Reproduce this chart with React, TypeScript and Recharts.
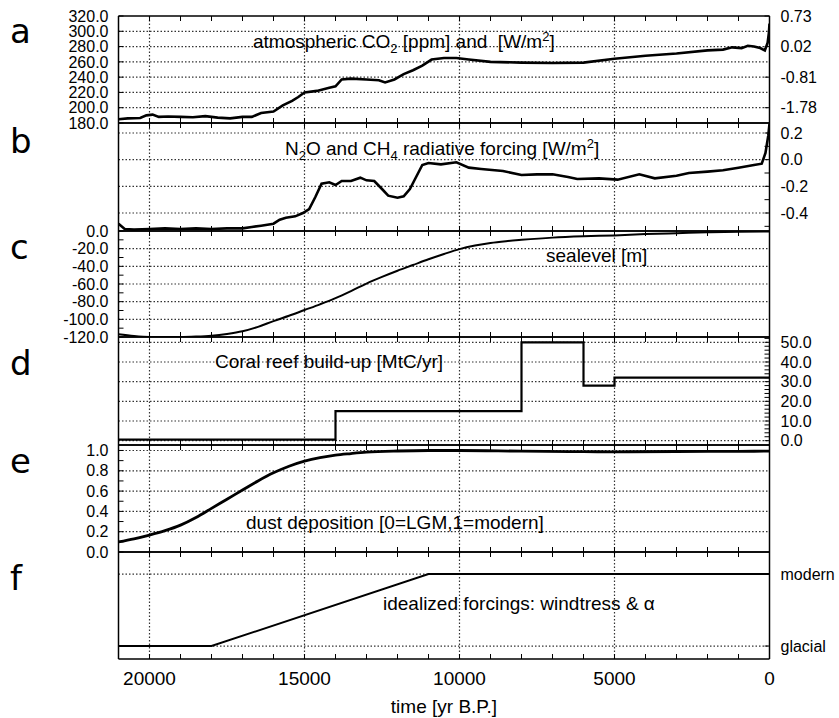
import React from "react";
import { LineChart, Line, XAxis, YAxis, ReferenceLine } from "recharts";

// time axis (yr B.P.)
const xTicks = [0, 1000, 2000, 3000, 4000, 5000, 6000, 7000, 8000, 9000, 10000, 11000, 12000, 13000, 14000, 15000, 16000, 17000, 18000, 19000, 20000, 21000];
const xGrid = [5000, 10000, 15000, 20000];

// a: atmospheric CO2
const co2Years = [21000, 20700, 20300, 20100, 19900, 19700, 19400, 19000, 18600, 18200, 17800, 17400, 17000, 16700, 16400, 16000, 15700, 15400, 15200, 15000, 14600, 14200, 14000, 13800, 13500, 13000, 12600, 12400, 12100, 11800, 11500, 11200, 10900, 10500, 10100, 9700, 9000, 8000, 7000, 6000, 5000, 4000, 3000, 2000, 1500, 1200, 900, 700, 500, 300, 150, 60, 20, 0];
const co2Ppm = [185, 186, 186.5, 190, 191, 188, 188.5, 188, 187.5, 189, 187, 186, 188, 188, 193, 195, 203, 209, 214, 220, 222, 226, 228, 237, 238, 237, 236, 233, 237, 244, 249, 255, 263, 265, 265, 263, 260, 259, 258.5, 259, 264, 268, 271, 275, 276, 279, 278, 281, 280, 278, 275, 285, 298, 310];
const co2Ticks = [180, 200, 220, 240, 260, 280, 300, 320];
const co2Grid = [200, 220, 240, 260, 280, 300];
const co2RightTicks = [320, 280, 240, 200];
const co2ForcingLabels = ["0.73", "0.02", "-0.81", "-1.78"];

// b: N2O and CH4 radiative forcing
const ghgYears = [21000, 20800, 20500, 20000, 19500, 19000, 18500, 18000, 17500, 17000, 16700, 16400, 16000, 15800, 15600, 15300, 15050, 14850, 14650, 14450, 14200, 14000, 13800, 13500, 13200, 13000, 12750, 12500, 12300, 12000, 11800, 11600, 11400, 11200, 11000, 10600, 10100, 9700, 9300, 8600, 8000, 7500, 7000, 6500, 6200, 5500, 4900, 4200, 3700, 3000, 2600, 2000, 1500, 1000, 500, 250, 130, 40, 0];
const ghgForcing = [-0.48, -0.52, -0.525, -0.52, -0.515, -0.52, -0.515, -0.52, -0.515, -0.515, -0.505, -0.495, -0.48, -0.45, -0.435, -0.425, -0.4, -0.37, -0.28, -0.18, -0.17, -0.19, -0.16, -0.16, -0.135, -0.155, -0.16, -0.22, -0.27, -0.285, -0.275, -0.22, -0.13, -0.04, -0.025, -0.035, -0.02, -0.06, -0.07, -0.085, -0.115, -0.11, -0.11, -0.13, -0.145, -0.14, -0.15, -0.11, -0.14, -0.12, -0.1, -0.09, -0.08, -0.06, -0.04, -0.03, 0.05, 0.18, 0.27];
const ghgTicks = [0.2, 0.1, 0, -0.1, -0.2, -0.3, -0.4, -0.5];
const ghgGrid = [0.2, 0, -0.2, -0.4];

// c: sealevel
const seaYears = [21000, 20500, 20000, 19500, 19000, 18500, 18000, 17500, 17000, 16500, 16000, 15500, 15000, 14500, 14000, 13500, 13000, 12500, 12000, 11500, 11000, 10500, 10000, 9500, 9000, 8500, 8000, 7000, 6000, 5000, 4000, 3000, 2000, 1000, 0];
const seaLevel = [-117, -119, -120, -120, -120, -119.5, -118.5, -116.5, -113.5, -108.5, -102, -96, -89.5, -83, -76, -68, -59.5, -52, -45, -38.5, -32, -26, -20.5, -16.5, -13.5, -11.5, -10, -7.5, -6, -5, -3.5, -2.5, -1.5, -0.8, -0.5];
const seaTicks = [0, -10, -20, -30, -40, -50, -60, -70, -80, -90, -100, -110, -120];
const seaGrid = [-20, -40, -60, -80, -100];

// d: coral reef build-up
const coralYears = [21000, 14000, 8000, 6000, 5000, 0];
const coralFlux = [0.5, 15, 50, 28, 32, 32];
const coralTicks = [0, 2, 4, 6, 8, 10, 12, 14, 16, 18, 20, 22, 24, 26, 28, 30, 32, 34, 36, 38, 40, 42, 44, 46, 48, 50, 52];
const coralGrid = [0, 10, 20, 30, 40, 50];

// e: dust deposition
const dustYears = [21000, 20500, 20000, 19500, 19000, 18500, 18000, 17500, 17000, 16500, 16000, 15500, 15000, 14500, 14000, 13500, 13000, 12000, 11000, 10000, 8000, 6000, 5000, 3000, 1000, 0];
const dustIndex = [0.1, 0.13, 0.167, 0.21, 0.265, 0.34, 0.43, 0.52, 0.61, 0.7, 0.78, 0.845, 0.895, 0.93, 0.955, 0.97, 0.983, 0.995, 1.0, 1.0, 0.993, 0.988, 0.987, 0.99, 0.992, 0.993];
const dustTicks = [0, 0.1, 0.2, 0.3, 0.4, 0.5, 0.6, 0.7, 0.8, 0.9, 1.0];
const dustGrid = [0.2, 0.4, 0.6, 0.8, 1.0];

// f: idealized forcings
const forcingYears = [21000, 18000, 11000, 0];
const forcingLevel = [0, 0, 1, 1];
const forcingTicks = [0, 1];
const forcingLabels = ["glacial", "modern"];

const FONT = "'Liberation Sans', Arial, Helvetica, sans-serif";
const W = 839;
const GRID = "#333";

type Row = { t: number; v: number };
const zip = (ts: number[], vs: number[]): Row[] => ts.map((t, i) => ({ t, v: vs[i] }));

type PanelProps = {
  top: number;
  bottom: number;
  rows: Row[];
  domain: [number, number];
  leftTicks?: number[];
  leftFmt?: (v: number) => string;
  rightTicks?: number[];
  rightFmt?: (v: number) => string;
  gridY: number[];
  lineWidth: number;
  curve: "linear" | "monotone" | "stepAfter";
  xLabels?: boolean;
};

function Panel(p: PanelProps) {
  const mt = 12;
  const bh = p.xLabels ? 60 : 1;
  const mb = p.xLabels ? 0 : 12;
  const h = mt + 1 + (p.bottom - p.top) + bh + mb;
  const tickStyle = { fill: "#000", fontSize: 16, fontFamily: FONT };
  return (
    <div style={{ position: "absolute", left: 0, top: p.top - mt - 1 }}>
      <LineChart width={W} height={h} data={p.rows} margin={{ top: mt, right: 0, bottom: mb, left: 0.5 }}>
        <XAxis
          xAxisId="b"
          dataKey="t"
          type="number"
          domain={[0, 21000]}
          reversed
          allowDataOverflow
          ticks={xTicks}
          interval={0}
          height={bh}
          tickSize={-5}
          tickMargin={18}
          axisLine={{ stroke: "#000", strokeWidth: 1.5 }}
          tickLine={{ stroke: "#000" }}
          tick={{ fill: "#000", fontSize: 19, fontFamily: FONT }}
          tickFormatter={(v: number) => (p.xLabels && v % 5000 === 0 ? String(v) : "")}
        />
        <XAxis
          xAxisId="t"
          orientation="top"
          dataKey="t"
          type="number"
          domain={[0, 21000]}
          reversed
          allowDataOverflow
          ticks={xTicks}
          interval={0}
          height={1}
          tickSize={-5}
          axisLine={{ stroke: "#000", strokeWidth: 1.5 }}
          tickLine={{ stroke: "#000" }}
          tickFormatter={() => ""}
        />
        <YAxis
          yAxisId="L"
          type="number"
          domain={p.domain}
          allowDataOverflow
          width={118}
          ticks={p.leftTicks ?? [p.domain[0]]}
          interval={0}
          tickSize={-5}
          tickMargin={15}
          axisLine={false}
          tickLine={p.leftTicks ? { stroke: "#000" } : false}
          tick={p.leftTicks ? tickStyle : false}
          tickFormatter={p.leftFmt}
        />
        <YAxis
          yAxisId="R"
          orientation="right"
          type="number"
          domain={p.domain}
          allowDataOverflow
          width={69.5}
          ticks={p.rightTicks ?? [p.domain[0]]}
          interval={0}
          tickSize={-5}
          tickMargin={16}
          axisLine={false}
          tickLine={p.rightTicks ? { stroke: "#000" } : false}
          tick={p.rightTicks ? tickStyle : false}
          tickFormatter={p.rightFmt}
        />
        {xGrid.map((x) => (
          <ReferenceLine
            key={"gx" + x}
            x={x}
            xAxisId="b"
            yAxisId="L"
            stroke={GRID}
            strokeWidth={1.2}
            strokeDasharray="1.5 2"
          />
        ))}
        {p.gridY.map((y) => (
          <ReferenceLine
            key={"gy" + y}
            y={y}
            xAxisId="b"
            yAxisId="L"
            stroke={GRID}
            strokeWidth={1.2}
            strokeDasharray="1.5 2"
          />
        ))}
        <ReferenceLine x={21000} xAxisId="b" yAxisId="L" stroke="#000" strokeWidth={1.5} />
        <ReferenceLine x={0} xAxisId="b" yAxisId="L" stroke="#000" strokeWidth={1.5} />
        <Line
          xAxisId="b"
          yAxisId="L"
          dataKey="v"
          type={p.curve}
          stroke="#000"
          strokeWidth={p.lineWidth}
          dot={false}
          isAnimationActive={false}
        />
      </LineChart>
    </div>
  );
}

const oneDecimal = (v: number) => v.toFixed(1);
const evenTenths = (v: number) => (Math.abs(Math.round(v * 10)) % 2 === 0 ? v.toFixed(1) : "");

const panelLetters = ["a", "b", "c", "d", "e", "f"];
const letterBaselines = [43, 153, 259, 375, 473, 590];

export default function App() {
  return (
    <div style={{ position: "absolute", left: 0, top: 0, width: W, height: 718, background: "#fff" }}>
      <Panel
        top={16}
        bottom={123}
        rows={zip(co2Years, co2Ppm)}
        domain={[180, 320]}
        leftTicks={co2Ticks}
        leftFmt={oneDecimal}
        rightTicks={co2RightTicks}
        rightFmt={(v) => co2ForcingLabels[co2RightTicks.indexOf(v)] ?? ""}
        gridY={co2Grid}
        lineWidth={2.6}
        curve="linear"
      />
      <Panel
        top={123}
        bottom={231}
        rows={zip(ghgYears, ghgForcing)}
        domain={[-0.535, 0.275]}
        rightTicks={ghgTicks}
        rightFmt={evenTenths}
        gridY={ghgGrid}
        lineWidth={2.6}
        curve="linear"
      />
      <Panel
        top={231}
        bottom={337}
        rows={zip(seaYears, seaLevel)}
        domain={[-120, 0]}
        leftTicks={seaTicks}
        leftFmt={(v) => (v % 20 === 0 ? v.toFixed(1) : "")}
        gridY={seaGrid}
        lineWidth={2}
        curve="monotone"
      />
      <Panel
        top={337}
        bottom={445}
        rows={zip(coralYears, coralFlux)}
        domain={[-2.2, 52.7]}
        rightTicks={coralTicks}
        rightFmt={(v) => (v % 10 === 0 ? v.toFixed(1) : "")}
        gridY={coralGrid}
        lineWidth={2.2}
        curve="stepAfter"
      />
      <Panel
        top={445}
        bottom={552}
        rows={zip(dustYears, dustIndex)}
        domain={[0, 1.054]}
        leftTicks={dustTicks}
        leftFmt={evenTenths}
        gridY={dustGrid}
        lineWidth={2.8}
        curve="monotone"
      />
      <Panel
        top={552}
        bottom={659}
        rows={zip(forcingYears, forcingLevel)}
        domain={[-0.18, 1.306]}
        rightTicks={forcingTicks}
        rightFmt={(v) => forcingLabels[forcingTicks.indexOf(v)] ?? ""}
        gridY={[0, 1]}
        lineWidth={2}
        curve="linear"
        xLabels
      />
      <svg
        width={W}
        height={718}
        style={{ position: "absolute", left: 0, top: 0, pointerEvents: "none" }}
        fontFamily={FONT}
        fill="#000"
      >
        {panelLetters.map((l, i) => (
          <text key={l} x={10} y={letterBaselines[i]} fontSize={34} fontFamily="'DejaVu Sans', sans-serif">
            {l}
          </text>
        ))}
        <text x={253} y={48} fontSize={19} style={{ whiteSpace: "pre" }}>
          atmospheric CO<tspan dy={5} fontSize={13}>2</tspan>
          <tspan dy={-5}>{" [ppm] and  [W/m"}</tspan>
          <tspan dy={-7} fontSize={13}>2</tspan>
          <tspan dy={7}>]</tspan>
        </text>
        <text x={285} y={155} fontSize={19} style={{ whiteSpace: "pre" }}>
          N<tspan dy={5} fontSize={13}>2</tspan>
          <tspan dy={-5}>O and CH</tspan>
          <tspan dy={5} fontSize={13}>4</tspan>
          <tspan dy={-5}>{" radiative forcing [W/m"}</tspan>
          <tspan dy={-7} fontSize={13}>2</tspan>
          <tspan dy={7}>]</tspan>
        </text>
        <text x={546} y={262} fontSize={19}>sealevel [m]</text>
        <text x={215} y={368} fontSize={19}>Coral reef build-up [MtC/yr]</text>
        <text x={246} y={529} fontSize={19}>dust deposition [0=LGM,1=modern]</text>
        <text x={383} y={610} fontSize={19}>idealized forcings: windtress &amp; α</text>
        <text x={444} y={713} fontSize={19} textAnchor="middle">time [yr B.P.]</text>
      </svg>
    </div>
  );
}
